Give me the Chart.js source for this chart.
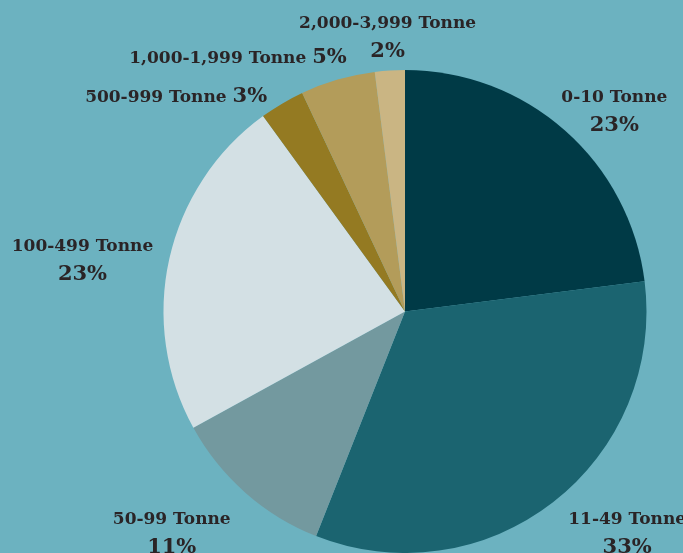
<!DOCTYPE html>
<html lang="en">
  <head>
    <title>Tonnage share</title>
    <script src="https://cdn.jsdelivr.net/npm/chart.js@4.4.1/dist/chart.umd.min.js"></script>
    <style>
      html, body{
        margin: 0;
        padding: 0;
        background-color: #6cb2c0;
        overflow: hidden;
      }
      #wrap{
        width: 683px;
        height: 553px;
      }
    </style>
  </head>
  <body>
    <div id="wrap">
      <canvas id="tonnageChart" width="683" height="553"></canvas>
    </div>
    <script>
      // data
      const categories = ["0-10 Tonne", "11-49 Tonne", "50-99 Tonne", "100-499 Tonne",
                          "500-999 Tonne", "1,000-1,999 Tonne", "2,000-3,999 Tonne"];
      const shares = [23, 33, 11, 23, 3, 5, 2];
      const sliceColors = ["#003a46", "#1b6470", "#73999f", "#d3e0e4",
                           "#947a22", "#b39c5a", "#cab583"];

      // label placement round each slice (angle nudge in degrees, distance from centre)
      const labelNudge = [4.6, -7.6, 5.4, -3.1, -16, -17, 0];
      const labelDist = [291, 312, 320, 327, 315, 305, 277];
      const oneLine = [false, false, false, false, true, true, false];

      const nameFont = "bold 17px 'DejaVu Serif', serif";
      const pctFont = "bold 21px 'DejaVu Serif', serif";

      const sliceLabels = {
        id: "sliceLabels",
        afterDatasetsDraw(chart) {
          const ctx = chart.ctx;
          const arcs = chart.getDatasetMeta(0).data;
          ctx.save();
          ctx.fillStyle = "#2a2426";
          ctx.textBaseline = "alphabetic";
          arcs.forEach((arc, i) => {
            const p = arc.getProps(["x", "y", "startAngle", "endAngle"], true);
            const mid = (p.startAngle + p.endAngle) / 2 + labelNudge[i] * Math.PI / 180;
            const cx = p.x + Math.cos(mid) * labelDist[i];
            const cy = p.y + Math.sin(mid) * labelDist[i];
            const name = categories[i];
            const pct = shares[i] + "%";
            if (oneLine[i]) {
              ctx.font = nameFont;
              const w1 = ctx.measureText(name + " ").width;
              ctx.font = pctFont;
              const w2 = ctx.measureText(pct).width;
              const left = cx - (w1 + w2) / 2;
              ctx.textAlign = "left";
              ctx.font = nameFont;
              ctx.fillText(name, left, cy + 7);
              ctx.font = pctFont;
              ctx.fillText(pct, left + w1, cy + 7);
            } else {
              ctx.textAlign = "center";
              ctx.font = nameFont;
              ctx.fillText(name, cx, cy - 7);
              ctx.font = pctFont;
              ctx.fillText(pct, cx, cy + 22);
            }
          });
          ctx.restore();
        }
      };

      const tonnageCtx = document.getElementById("tonnageChart").getContext("2d");
      const tonnageChart = new Chart(tonnageCtx, {
        type: "pie",
        data: {
          labels: categories,
          datasets: [{
            data: shares,
            backgroundColor: sliceColors,
            borderWidth: 0
          }]
        },
        options: {
          responsive: false,
          animation: false,
          layout: {
            padding: { left: 163, right: 36, top: 70, bottom: -1 }
          },
          plugins: {
            legend: { display: false },
            tooltip: { enabled: false }
          }
        },
        plugins: [sliceLabels]
      });
    </script>
  </body>
</html>
